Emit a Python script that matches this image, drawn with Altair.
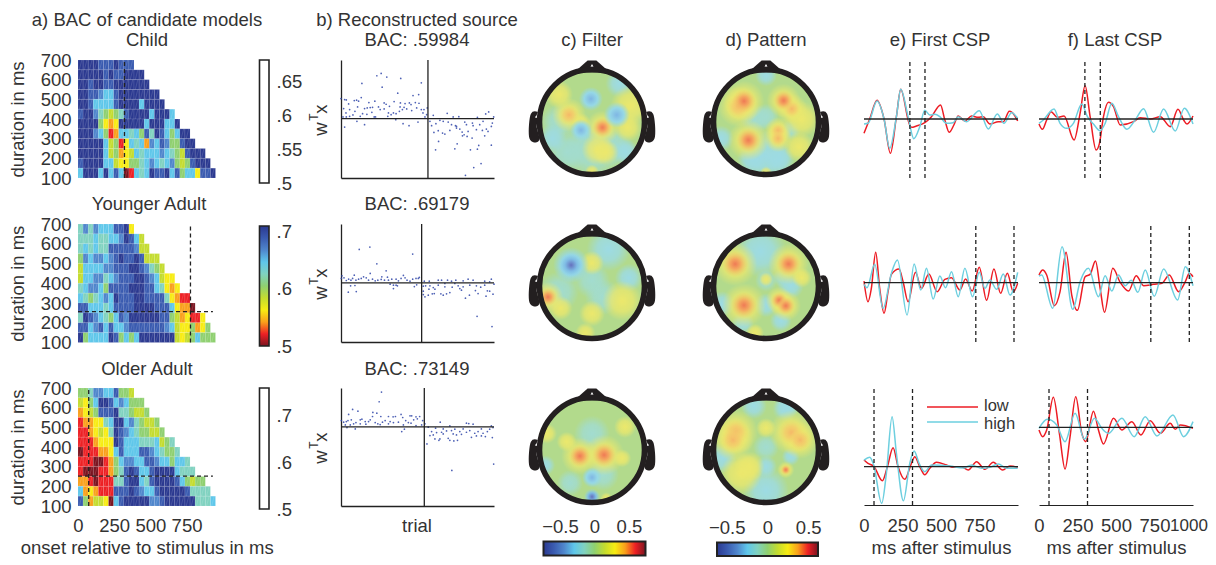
import altair as alt
import pandas as pd

W, H = 1200, 549
FONT = "Liberation Sans"
FS = 18.5
INK = "#333333"
RED, CYAN = "#ed1c24", "#6dcfdf"
STOPS = ["#2b3990", "#3a5bb0", "#4f86cc", "#5fc7ea", "#80d2c0", "#8fd070",
         "#c4dc2f", "#f7ec13", "#f9a01b", "#ed2024", "#7a1420"]

def rx(a, b): return [a - 8, b - 8]
def ry(bottom, top): return [bottom - 8, top - 8]

# ---------- a) heat maps: colour level of each cell, rows from 650-700 ms down to 100-150 ms
CHILD = ["00001110111", "0000010110000", "00100110000000", "0011233100000000",
         "00133331000030000", "1002456541000030003", "00005787000003000330",
         "0002359833435140135300", "00000365973438231255100",
         "0000036587634333234561000", "10000336775543234325651000",
         "300030313A93430110315337110"]
YOUNG = ["42423331107", "4443443320136", "43434411111266", "5232232101101666",
         "63333221110012456", "6332243211100123677", "43223511110001134787",
         "3454323011100111147899", "1133343111100001113788A",
         "4012345312000000115687997", "11321313321111111236775875",
         "053333015353000000067653555"]
OLDER = ["55422331556", "6753001323555", "87651110445665", "9887743003245665",
         "99876740123455665", "9998777013334443654", "A9998873133311234554",
         "999AA98532233112335334", "9AAA9985410133100003444",
         "889A999441003410000135655", "38789991110123310000014444",
         "158667A31000002210000004443"]
HEAT_DASH_V = [321, 777, 74]
HEAT_DASH_H = [None, 256, 252]
BAR_TOP = [.681, .709, .76]
BAR_RANGE = [(183, 60), (346, 226), (509, 388)]
BAR_TICKS = [[.5, .55, .6, .65], [.5, .6, .7], [.5, .6, .7]]
HEAT_Y = [(178, 60), (342.5, 224), (506, 388)]
ONSET_STEP = 950 / 27

# ---------- b) reconstructed source, (x, y) readings of each trial dot
DOTS1 = [(200,229),(213,222),(230,233),(272,237),(334,250),(155,252),(216,263),(263,281),(326,285),(309,288),(153,294),(92,297),(103,300),(108,301),(132,303),(139,302),(145,305),(115,313),(176,309),(194,305),(222,310),(252,306),(271,310),(285,312),(298,310),(316,309),(327,311),(303,315),(282,323),(270,322),(238,320),(228,314),(205,322),(187,323),(180,324),(171,325),(163,327),(142,322),(118,330),(134,335),(100,327),(107,340),(118,350),(128,346),(98,352),(108,352),(150,350),(157,342),(170,344),(185,338),(192,352),(210,330),(222,328),(235,340),(243,345),(258,342),(268,335),(277,330),(290,328),(305,333),(320,325),(334,330),(342,330),(352,325),(350,345),(339,340),(345,352),(233,350),(250,340),(103,382),(140,365),(163,375),(279,372),(297,378),(324,367),(196,352),(257,360),
(370,347),(412,341),(430,352),(447,351),(503,353),(537,337),(528,343),(552,352),(360,365),(365,378),(378,372),(390,362),(400,365),(415,367),(425,375),(437,378),(372,398),(385,393),(398,400),(405,403),(420,392),(440,385),(450,388),(457,397),(463,405),(475,395),(490,378),(488,370),(470,375),(465,367),(510,375),(520,365),(530,388),(545,380),(548,370),(518,392),(525,408),(386,425),(377,450),(435,447),(442,432),(458,408),(472,410),(487,415),(482,450),(503,448),(507,437),(545,436),(492,503),(514,491),(467,526),(440,380),(500,390),(535,395)]
DOTS2 = [(72,103),(104,96),(233,117),(125,146),(153,167),(105,175),(57,180),(20,182),(205,181),(18,190),(26,188),(33,196),(40,192),(47,195),(52,190),(62,195),(70,192),(78,190),(85,185),(93,188),(100,195),(112,192),(120,197),(128,195),(138,193),(140,185),(148,195),(157,186),(160,195),(170,192),(183,192),(190,197),(198,190),(210,188),(216,195),(225,198),(233,192),(243,190),(250,190),(253,187),(165,207),(175,210),(183,210),(46,212),(59,211),(238,214),(245,209),(175,220),(39,231),(63,229),(187,212),
(268,198),(283,198),(310,195),(320,195),(338,195),(350,198),(363,195),(385,197),(400,192),(415,195),(450,198),(470,192),(465,200),(265,213),(272,212),(285,212),(295,217),(310,210),(330,215),(352,216),(370,212),(385,215),(405,210),(425,212),(438,216),(450,210),(478,207),(265,228),(282,222),(300,222),(265,238),(270,245),(280,240),(292,236),(298,235),(318,236),(325,240),(335,236),(345,232),(375,220),(380,225),(422,226),(430,235),(458,227),(465,228),(475,237),(404,240),(392,249),(454,243),(427,303),(472,334),(330,205),(360,205)]
DOTS3 = [(139,37),(132,66),(52,89),(68,94),(40,104),(113,98),(125,100),(198,104),(137,110),(160,110),(174,111),(181,110),(203,113),(225,108),(230,108),(243,111),(254,110),(112,110),(18,122),(25,127),(33,125),(38,122),(48,120),(75,120),(80,118),(105,120),(90,125),(100,125),(62,128),(120,128),(128,132),(142,127),(150,122),(165,125),(175,128),(190,127),(212,122),(220,128),(236,120),(247,117),(263,122),(270,132),(30,135),(45,135),(55,132),(75,132),(92,133),(135,134),(160,132),(205,135),(228,130),(243,137),(260,135),(35,143),(60,147),(208,148),(200,155),
(316,127),(395,130),(402,131),(415,133),(345,138),(470,138),(280,142),(302,145),(325,147),(360,148),(385,147),(405,152),(440,147),(465,148),(475,143),(290,155),(305,158),(320,157),(335,153),(350,152),(375,155),(395,157),(420,160),(430,155),(445,160),(458,155),(295,165),(285,167),(325,162),(355,162),(365,165),(380,163),(410,172),(425,168),(440,168),(452,170),(473,173),(300,177),(315,177),(340,175),(345,181),(357,183),(368,181),(276,192),(477,252),(351,271),(312,181)]
# reading frame of each dot list: left, right, top, zero, bottom, split
DOT_FRAME = [(92, 553, 182, 357, 534, 354), (17, 478, 27, 203, 380, 260), (17, 478, 25, 141, 377, 268)]
SCAT_Y = [(178, 60), (342, 224), (506, 388)]
SCAT_X = (341, 494)

# ---------- c, d) scalp maps: (x, y, diameter) of the bumps of each map, by colour kind
BLOB_KINDS = {
    "teal":   [("#a2dcd0", 0), ("#a2dcd0cc", .5), ("#a2dcd000", 1)],
    "cool":   [("#9ddbe4", 0), ("#9ddbe4cc", .5), ("#9ddbe400", 1)],
    "yellow": [("#ece86c", 0), ("#ece86cbb", .55), ("#ece86c00", 1)],
    "warm":   [("#f5b868", 0), ("#f5c86ab0", .5), ("#f0e06a00", 1)],
    "hot":    [("#ef7a55", 0), ("#f4a860", .4), ("#f2d06600", 1)],
    "blue":   [("#7fb6e4", 0), ("#96d8e6", .55), ("#96d8e600", 1)],
    "deep":   [("#6470bd", 0), ("#7fbce5", .5), ("#8fd6e800", 1)],
}
HEADS = [
 {"teal": [(0,-.5,60),(.4,-.45,40),(-.45,-.55,40),(-.6,.0,36)],
  "cool": [(.5,.7,28),(-.72,-.3,28),(.62,-.55,26)],
  "yellow": [(.1,-.5,32),(.25,-.55,26),(.7,.3,40),(.65,-.1,28),(-.2,-.02,20),(0,-.9,14),(-.6,.5,28)],
  "blue": [(-.02,.42,24),(.45,.13,26),(-.2,-.15,22)],
  "warm": [(-.42,.13,20)],
  "hot": [(.19,-.1,20)]},
 {"teal": [(-.2,.05,30),(.45,-.15,20),(.0,.1,26)],
  "cool": [(0,-.62,52),(.25,-.68,30),(-.25,-.68,30),(-.82,-.3,26),(0,.85,22)],
  "yellow": [(.65,.05,36),(0,-.92,12),(.6,-.45,30)],
  "warm": [(-.5,.28,24),(.47,.24,18),(.22,-.16,16),(.22,-.3,16)],
  "hot": [(-.4,.38,24),(.32,.39,20),(-.32,-.33,24)]},
 {"teal": [(.0,.1,36),(-.6,-.1,40),(.2,-.2,36)],
  "cool": [(.3,.67,44),(.67,.15,28)],
  "yellow": [(-.57,-.4,24),(0,-.5,26),(-.12,-.85,20),(0,.42,24),(.55,-.27,40)],
  "blue": [(-.38,.38,36)],
  "deep": [(-.38,.38,24)],
  "hot": [(-.8,-.2,18)]},
 {"teal": [(0,.1,22),(.3,.15,20)],
  "cool": [(-.1,.63,52),(.45,0,26),(-.8,-.33,26),(0,-.35,24),(-.42,-.67,22),(.27,-.63,22)],
  "yellow": [(0,.12,14),(-.2,-.85,18),(.65,.15,20)],
  "hot": [(-.56,.4,26),(.41,.4,24),(-.4,-.35,26),(.24,-.26,16),(.36,-.36,18)]},
 {"teal": [(.0,.3,36),(.2,-.45,32),(-.4,-.6,26)],
  "cool": [(-.85,-.28,20)],
  "yellow": [(-.82,.3,20),(.6,.42,22),(-.46,.15,20),(.26,-.88,12),(.55,-.15,18)],
  "blue": [(0,-.5,20)],
  "deep": [(0,-.85,16)],
  "hot": [(-.22,-.11,22),(.22,-.09,24)]},
 {"teal": [(.0,.05,26),(.35,.75,26)],
  "cool": [(0,-.74,46),(-.22,.8,26),(.37,.78,24),(-.8,-.15,30),(.45,-.12,18),(0,-.3,22)],
  "yellow": [(0,.4,20),(-.45,-.43,42),(-.3,-.3,30)],
  "warm": [(-.55,.33,26),(-.6,.18,24),(.46,.32,26),(.62,.18,22)],
  "hot": [(.36,-.36,10)]},
]
HEAD_CX = [592, 766]
HEAD_CY = [122, 286, 450]
NOSE_X = [-.27, -.08, .08, .27]
NOSE_Y = [.95, 1.12, 1.12, .95]
EAR_X = [1.0, 1.07, 1.1, 1.1, 1.06, 1.0, 1.05, 1.02]
EAR_Y = [.14, .13, -.05, -.26, -.32, -.3, -.1, .08]

# ---------- e, f) CSP time courses, curve readings (t, v), zero level and frame of the reading
E1R = [(43,340),(60,297),(82,241),(103,297),(122,400),(140,290),(153,208),(178,310),(185,322),(200,318),(225,308),(245,290),(272,255),(285,300),(298,337),(312,315),(325,288),(345,303),(365,288),(385,292),(400,290),(420,312),(445,305),(460,305),(478,274),(495,288),(503,303)]
E1C = [(43,312),(55,310),(82,243),(103,297),(120,385),(140,290),(153,208),(175,290),(192,356),(210,320),(225,271),(240,285),(255,283),(270,290),(290,310),(310,308),(325,290),(350,305),(388,272),(415,327),(442,282),(462,310),(485,278),(503,295)]
F1R = [(567,312),(577,328),(590,300),(603,275),(622,292),(642,288),(672,360),(690,280),(705,197),(720,290),(738,390),(748,370),(760,290),(775,247),(790,260),(810,315),(850,305),(870,293),(900,297),(930,290),(960,320),(983,268),(1000,300),(1010,312),(1028,288)]
F1C = [(567,310),(580,300),(612,267),(630,310),(650,325),(670,310),(695,252),(712,290),(730,312),(750,332),(765,310),(785,250),(805,290),(830,328),(855,300),(880,266),(910,337),(940,267),(975,333),(1002,265),(1028,312)]
E2R = [(43,258),(55,320),(65,280),(78,172),(90,280),(103,355),(115,290),(125,238),(148,222),(160,260),(175,320),(197,232),(215,280),(237,237),(262,290),(285,253),(305,248),(330,285),(347,252),(367,288),(388,217),(410,316),(432,222),(452,295),(472,235),(490,290),(503,265)]
E2C = [(43,268),(52,278),(75,208),(100,340),(125,235),(143,195),(172,360),(193,207),(213,285),(230,220),(250,312),(270,243),(287,278),(305,230),(325,305),(345,220),(368,305),(388,232),(405,280),(420,255),(440,283),(460,237),(480,300),(503,232)]
F2R = [(567,240),(578,225),(590,240),(613,332),(630,290),(648,172),(665,300),(682,346),(705,245),(720,238),(736,198),(750,280),(763,352),(788,220),(810,262),(835,288),(858,242),(880,272),(910,268),(935,265),(957,240),(985,290),(1005,260),(1017,235),(1028,245)]
F2C = [(567,243),(575,240),(608,340),(636,155),(668,343),(690,260),(715,220),(745,305),(765,242),(785,288),(805,240),(825,272),(843,256),(863,292),(885,225),(912,304),(940,222),(982,315),(1005,215),(1028,272)]
E3R = [(43,270),(55,280),(72,288),(98,332),(113,290),(130,233),(145,290),(165,328),(185,280),(195,260),(210,290),(225,314),(240,295),(260,277),(290,285),(310,292),(335,290),(355,300),(380,275),(405,298),(430,277),(458,300),(480,288),(503,292)]
E3C = [(43,270),(60,262),(72,285),(96,400),(110,310),(127,140),(140,250),(161,392),(180,280),(193,243),(208,280),(225,305),(245,285),(300,288),(340,294),(365,285),(395,295),(420,292),(445,282),(470,295),(503,295)]
F3R = [(567,180),(578,200),(590,180),(610,82),(628,190),(645,297),(660,200),(677,80),(695,190),(707,215),(730,124),(745,180),(760,222),(790,145),(815,180),(845,155),(872,195),(900,152),(930,190),(960,160),(975,178),(990,165),(1028,175)]
F3C = [(567,175),(592,148),(620,165),(645,215),(675,130),(703,208),(733,145),(755,175),(775,190),(815,145),(852,200),(885,140),(920,198),(968,135),(1000,200),(1028,155)]
CSP = [
 [(E1R, E1C, 43, 297, [298, 396]), (F1R, F1C, 567, 297, [298, 398])],
 [(E2R, E2C, 43, 263, [726, 974]), (F2R, F2C, 567, 263, [726, 976])],
 [(E3R, E3C, 43, 290, [65, 315]), (F3R, F3C, 567, 172, [65, 315])],
]
CSP_X = [(864, 1018), (1039, 1193)]
CSP_Y = [(178, 60, 119), (342, 224, 282.7), (505, 388, None)]
CSP_ZERO_ROW3 = [466.7, 427.3]
CSP_TICKS = [[0, 250, 500, 750], [0, 250, 500, 750]]

# ---------- text
CENTER_TEXT = [
 ("a) BAC of candidate models", 147, 20), ("Child", 147, 40), ("Younger Adult", 149, 204), ("Older Adult", 147, 369),
 ("b) Reconstructed source", 417, 20), ("BAC: .59984", 417, 40), ("BAC: .69179", 417, 204), ("BAC: .73149", 417, 369),
 ("trial", 417, 526), ("c) Filter", 592, 40), ("d) Pattern", 766, 40), ("e) First CSP", 940, 40), ("f) Last CSP", 1115, 40),
]
LEGEND_TEXT = [("low", 984, 406), ("high", 984, 424)]
LEGEND_LINES = [(927, 978, 407, RED), (927, 978, 422, CYAN)]
WTX = [("w", 321, 129, 18.5), ("x", 321, 109, 18.5), ("T", 314, 117, 12)]
LAST_TICK = ("1000", 1189, 526)

layers = []

def sc(dom, rng):
    return alt.Scale(domain=list(dom), range=list(rng), nice=False, zero=False)

def left_axis(x0, **k):
    return alt.Axis(orient="left", offset=-(x0 - 8), grid=False, **k)
def bottom_axis(y0, **k):
    return alt.Axis(orient="bottom", offset=-(H - (y0 - 8)), grid=False, **k)

# --- heat maps
for i, rows in enumerate([CHILD, YOUNG, OLDER]):
    hi = BAR_TOP[i]
    cells = []
    for r, s in enumerate(rows):
        dur = 650 - 50 * r
        for c, ch in enumerate(s):
            lev = 10 if ch == "A" else int(ch)
            x0 = c * ONSET_STEP
            cells.append(dict(x=x0, x2=x0 + ONSET_STEP, y=dur, y2=dur + 50,
                              hx=x0 + .25 * ONSET_STEP, hx2=x0 + .75 * ONSET_STEP,
                              bac=.5 + (hi - .5) * (10 - lev) / 10))
    df = pd.DataFrame(cells)
    xs = sc([0, 950], rx(78, 215.5))
    ys = sc([100, 700], ry(*HEAT_Y[i]))
    dom = [.5 + (hi - .5) * k / 10 for k in range(11)]
    yaxis = left_axis(78, values=[100, 200, 300, 400, 500, 600, 700], title="duration in ms",
                      ticks=False, domain=False, labelPadding=7, titlePadding=13)
    if i == 2:
        xaxis = bottom_axis(506, values=[0, 250, 500, 750], title="onset relative to stimulus in ms",
                            ticks=False, domain=False, labelPadding=10, titlePadding=4)
    else:
        xaxis = None
    layers.append(alt.Chart(df).mark_rect(stroke="white", strokeWidth=.4, strokeOpacity=.25).encode(
        x=alt.X("x:Q", scale=xs, axis=xaxis), x2="x2:Q",
        y=alt.Y("y:Q", scale=ys, axis=yaxis), y2="y2:Q",
        color=alt.Color("bac:Q", legend=None, scale=alt.Scale(domain=dom, range=STOPS[::-1]))))
    layers.append(alt.Chart(df).mark_rule(color="white", strokeWidth=.5, opacity=.28).encode(
        x=alt.X("hx:Q", scale=xs, axis=None), x2="hx2:Q",
        y=alt.Y("y:Q", scale=ys, axis=None), y2="y2:Q"))
    layers.append(alt.Chart(pd.DataFrame(dict(x=[HEAT_DASH_V[i]], y=[100], y2=[700]))).mark_rule(
        color="#222222", strokeDash=[4, 3], strokeWidth=1.3).encode(
        x=alt.X("x:Q", scale=xs, axis=None), y=alt.Y("y:Q", scale=ys, axis=None), y2="y2:Q"))
    if HEAT_DASH_H[i]:
        layers.append(alt.Chart(pd.DataFrame(dict(x=[0], x2=[932], y=[HEAT_DASH_H[i]]))).mark_rule(
            color="#222222", strokeDash=[4, 3], strokeWidth=1.3).encode(
            x=alt.X("x:Q", scale=xs, axis=None), x2="x2:Q", y=alt.Y("y:Q", scale=ys, axis=None)))
    # colour bar beside the map (only the middle one is painted)
    grad = dict(gradient="linear", x1=0, x2=0, y1=1, y2=0,
                stops=[dict(offset=k / 10, color=STOPS[10 - k]) for k in range(11)])
    fill = grad if i == 1 else "white"
    layers.append(alt.Chart(pd.DataFrame(dict(a=[0], b=[1], lo=[.5], hi=[hi]))).mark_rect(
        fill=fill, stroke="#222222", strokeWidth=1.6).encode(
        x=alt.X("a:Q", scale=sc([0, 1], rx(259.5, 269)), axis=None), x2="b:Q",
        y=alt.Y("lo:Q", scale=sc([.5, hi], ry(*BAR_RANGE[i])),
                axis=alt.Axis(orient="right", offset=-(W - (269 - 8)), values=BAR_TICKS[i], grid=False, ticks=False,
                              domain=False, labelPadding=7, title=None,
                              labelExpr="replace(format(datum.value,'.2~f'),'0.','.')")),
        y2="hi:Q"))

# --- trial scatters
for i, dots in enumerate([DOTS1, DOTS2, DOTS3]):
    l, r, t, z, b, split = DOT_FRAME[i]
    df = pd.DataFrame(dict(trial=[(p[0] - l) / (r - l) * 300 for p in dots], wx=[z - p[1] for p in dots]))
    xs = sc([0, 300], rx(*SCAT_X))
    ys = sc([z - b, z - t], ry(*SCAT_Y[i]))
    layers.append(alt.Chart(df).mark_circle(color="#2f45a8", size=3, opacity=.85).encode(
        x=alt.X("trial:Q", scale=xs, axis=bottom_axis(SCAT_Y[i][0], domain=True, domainColor="#222222", domainWidth=1.3,
                                                     ticks=False, labels=False, title=None)),
        y=alt.Y("wx:Q", scale=ys, axis=left_axis(SCAT_X[0], domain=True, domainColor="#222222", domainWidth=1.3,
                                                 ticks=False, labels=False, title=None))))
    layers.append(alt.Chart(pd.DataFrame(dict(x=[0], x2=[300], y=[0]))).mark_rule(color="#222222", strokeWidth=1.3).encode(
        x=alt.X("x:Q", scale=xs, axis=None), x2="x2:Q", y=alt.Y("y:Q", scale=ys, axis=None)))
    layers.append(alt.Chart(pd.DataFrame(dict(x=[(split - l) / (r - l) * 300], y=[z - b], y2=[z - t]))).mark_rule(
        color="#222222", strokeWidth=1.3).encode(
        x=alt.X("x:Q", scale=xs, axis=None), y=alt.Y("y:Q", scale=ys, axis=None), y2="y2:Q"))

# --- scalp maps
for h, blobs in enumerate(HEADS):
    cx, cy = HEAD_CX[h % 2], HEAD_CY[h // 2]
    xs = sc([-1.2, 1.2], rx(cx - 66, cx + 66))
    ys = sc([-1.2, 1.2], ry(cy + 66, cy - 66))
    X = alt.X("x:Q", scale=xs, axis=None)
    Y = alt.Y("y:Q", scale=ys, axis=None)
    origin = pd.DataFrame(dict(x=[0], y=[0]))
    layers.append(alt.Chart(origin).mark_circle(color="#b2da8c", opacity=1, size=106 ** 2).encode(x=X, y=Y))
    halos = [(b[0], b[1], b[2] * 1.7) for k in ("warm", "hot") for b in blobs.get(k, [])]
    for kind in ["teal", "cool", "yellow", "warm", "hot", "blue", "deep"]:
        items = list(blobs.get(kind, []))
        if kind == "yellow":
            items += halos
        if not items:
            continue
        df = pd.DataFrame(dict(x=[b[0] for b in items], y=[b[1] for b in items],
                               a=[b[2] ** 2 for b in items]))
        g = dict(gradient="radial", stops=[dict(offset=o, color=c) for c, o in BLOB_KINDS[kind]])
        layers.append(alt.Chart(df).mark_circle(color=g, opacity=1).encode(x=X, y=Y, size=alt.Size("a:Q", scale=None, legend=None)))
    # white collar hides whatever of the bumps leaves the scalp
    layers.append(alt.Chart(origin).mark_point(filled=False, color="white", strokeWidth=12, opacity=1, size=122 ** 2).encode(x=X, y=Y))
    nose = pd.DataFrame(dict(x=NOSE_X, y=NOSE_Y, y2=[.9] * 4))
    layers.append(alt.Chart(nose).mark_area(color="#231f20", opacity=1).encode(x=X, y=Y, y2="y2:Q"))
    layers.append(alt.Chart(pd.DataFrame(dict(x=[0], y=[1.03]))).mark_point(shape="triangle-up", filled=True, color="white", size=9, opacity=1).encode(x=X, y=Y))
    for sign in (-1, 1):
        ear = pd.DataFrame(dict(x=[sign * v for v in EAR_X], y=EAR_Y, o=list(range(len(EAR_X)))))
        layers.append(alt.Chart(ear).mark_line(color="#231f20", strokeWidth=5, opacity=1, interpolate="cardinal").encode(
            x=X, y=Y, order="o:Q"))
    layers.append(alt.Chart(origin).mark_point(filled=False, color="#231f20", strokeWidth=5.6, opacity=1, size=105 ** 2).encode(x=X, y=Y))

# --- bottom colour bars
for lim, x0, x1, y0, y1 in [(.74, 543.5, 645.5, 541.5, 555.5), (.62, 717, 818, 542.5, 556)]:
    grad = dict(gradient="linear", x1=0, x2=1, y1=0, y2=0,
                stops=[dict(offset=k / 10, color=STOPS[k]) for k in range(11)])
    layers.append(alt.Chart(pd.DataFrame(dict(a=[-lim], b=[lim], c=[0], d=[1]))).mark_rect(
        fill=grad, stroke="#222222", strokeWidth=2).encode(
        x=alt.X("a:Q", scale=sc([-lim, lim], rx(x0, x1)),
                axis=alt.Axis(orient="top", offset=-(y0 - 8), values=[-.5, 0, .5], grid=False, ticks=False, domain=False,
                              labelPadding=5, title=None,
                              labelExpr="datum.value<0?'\u22120.5':(datum.value>0?'0.5':'0')")),
        x2="b:Q",
        y=alt.Y("c:Q", scale=sc([0, 1], ry(y1, y0)), axis=None), y2="d:Q"))

# --- CSP curves
for row, panels in enumerate(CSP):
    for col, (red, cyan, left, zero, dash) in enumerate(panels):
        bottom, top, z = CSP_Y[row]
        if z is None:
            z = CSP_ZERO_ROW3[col]
        xs = sc([0, 1000], rx(*CSP_X[col]))
        ys = sc([-(bottom - z), z - top], ry(bottom, top))
        xa = None
        if row == 2:
            xa = bottom_axis(bottom, values=CSP_TICKS[col], title="ms after stimulus", domain=True, domainColor="#222222",
                             domainWidth=1.2, ticks=False, labelPadding=11, titlePadding=4)
        conv = lambda pts: pd.DataFrame(dict(t=[(p[0] - left) / 461 * 1000 for p in pts],
                                             v=[(zero - p[1]) / 3 for p in pts], o=list(range(len(pts)))))
        X = alt.X("t:Q", scale=xs, axis=None)
        Y = alt.Y("v:Q", scale=ys, axis=None)
        for pts, colr in ((red, RED), (cyan, CYAN)):
            layers.append(alt.Chart(conv(pts)).mark_line(color=colr, strokeWidth=1.5, interpolate="monotone").encode(x=X, y=Y, order="o:Q"))
        layers.append(alt.Chart(pd.DataFrame(dict(t=[0], t2=[1000], v=[0]))).mark_rule(color="#222222", strokeWidth=1.3).encode(
            x=alt.X("t:Q", scale=xs, axis=xa), x2="t2:Q", y=Y))
        layers.append(alt.Chart(pd.DataFrame(dict(t=dash, v=[-(bottom - z)] * 2, v2=[z - top] * 2))).mark_rule(
            color="#222222", strokeDash=[4, 3], strokeWidth=1.3).encode(x=X, y=Y, y2="v2:Q"))

# --- page level text and legend
PX = alt.Scale(domain=[0, 1216], range=[-8, 1208], nice=False, zero=False)
PY = alt.Scale(domain=[0, 565], range=[-8, 557], nice=False, zero=False)
def page_x(f="x:Q"): return alt.X(f, scale=PX, axis=None)
def page_y(f="y:Q"): return alt.Y(f, scale=PY, axis=None)

tdf = pd.DataFrame(CENTER_TEXT, columns=["t", "x", "y"])
layers.append(alt.Chart(tdf).mark_text(font=FONT, fontSize=FS, color=INK, align="center", baseline="middle").encode(
    x=page_x(), y=page_y(), text="t:N"))
ldf = pd.DataFrame(LEGEND_TEXT, columns=["t", "x", "y"])
layers.append(alt.Chart(ldf).mark_text(font=FONT, fontSize=16.5, color=INK, align="left", baseline="middle").encode(
    x=page_x(), y=page_y(), text="t:N"))
for a, b, y, c in LEGEND_LINES:
    layers.append(alt.Chart(pd.DataFrame(dict(x=[a], x2=[b], y=[y]))).mark_rule(color=c, strokeWidth=1.5).encode(
        x=page_x(), x2="x2:Q", y=page_y()))
wdf = pd.DataFrame([(t, x, y + d, s) for d in (0, 164, 328) for t, x, y, s in WTX], columns=["t", "x", "y", "s"])
for s in (18.5, 12):
    layers.append(alt.Chart(wdf[wdf.s == s]).mark_text(font=FONT, fontSize=s, color=INK, angle=270, align="center", baseline="middle").encode(
        x=page_x(), y=page_y(), text="t:N"))
layers.append(alt.Chart(pd.DataFrame([LAST_TICK], columns=["t", "x", "y"])).mark_text(
    font=FONT, fontSize=17, color=INK, align="center", baseline="middle").encode(x=page_x(), y=page_y(), text="t:N"))

chart = alt.layer(*layers).resolve_scale(x="independent", y="independent", color="independent").resolve_axis(
    x="independent", y="independent").properties(
    width=W, height=H, padding=0, autosize=alt.AutoSizeParams(type="none"),
).configure_view(stroke=None).configure_axis(
    labelFont=FONT, titleFont=FONT, labelFontSize=FS, titleFontSize=FS, titleFontWeight="normal",
    labelColor=INK, titleColor=INK, labelOverlap=False, labelBound=False, labelFlush=False,
)
chart.save("out.html", embed_options={"renderer": "svg", "actions": False})
